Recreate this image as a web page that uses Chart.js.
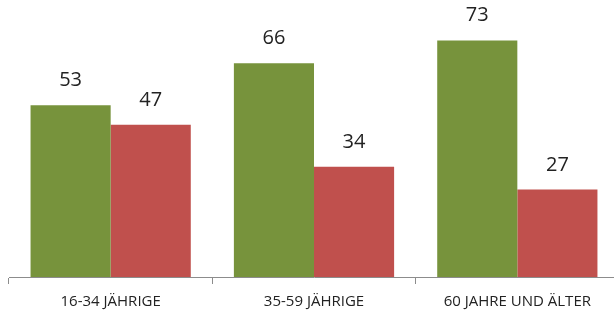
<!DOCTYPE html>
<html>
<head>
<meta charset="utf-8">
<script src="https://cdn.jsdelivr.net/npm/chart.js@4/dist/chart.umd.min.js"></script>
<style>
  html, body { margin: 0; padding: 0; background: #fff; overflow: hidden; }
  .wrap { width: 619px; height: 311px; position: relative; }
</style>
</head>
<body>
<div class="wrap"><canvas id="chart"></canvas></div>
<script>
const categories = ['16-34 JÄHRIGE', '35-59 JÄHRIGE', '60 JAHRE UND ÄLTER'];
const greenValues = [53, 66, 73];
const redValues = [47, 34, 27];

// ---- value labels above each bar ----
const valueLabels = {
  id: 'valueLabels',
  afterDatasetsDraw(chart) {
    const ctx = chart.ctx;
    ctx.save();
    ctx.font = '20px "Open Sans", sans-serif';
    ctx.fillStyle = '#222';
    ctx.textAlign = 'center';
    ctx.textBaseline = 'alphabetic';
    chart.data.datasets.forEach((ds, i) => {
      chart.getDatasetMeta(i).data.forEach((bar, j) => {
        ctx.fillText(ds.data[j], bar.x, bar.y - 19);
      });
    });
    ctx.restore();
  }
};

new Chart(document.getElementById('chart'), {
  type: 'bar',
  data: {
    labels: categories,
    datasets: [
      { data: greenValues, backgroundColor: '#77933C' },
      { data: redValues, backgroundColor: '#C0504D' }
    ]
  },
  options: {
    responsive: true,
    maintainAspectRatio: false,
    animation: false,
    categoryPercentage: 0.788,
    barPercentage: 1,
    layout: { padding: { left: 9, right: 0, top: 0, bottom: -9 } },
    plugins: { legend: { display: false }, tooltip: { enabled: false } },
    scales: {
      x: {
        grid: { drawOnChartArea: false, tickLength: 7, color: '#8c8c8c', offset: true },
        border: { color: '#8c8c8c' },
        ticks: { color: '#222', font: { family: '"Open Sans", sans-serif', size: 15 }, padding: 9, maxRotation: 0 }
      },
      y: { display: false, min: 0, max: 85.5 }
    }
  },
  plugins: [valueLabels]
});
</script>
</body>
</html>
